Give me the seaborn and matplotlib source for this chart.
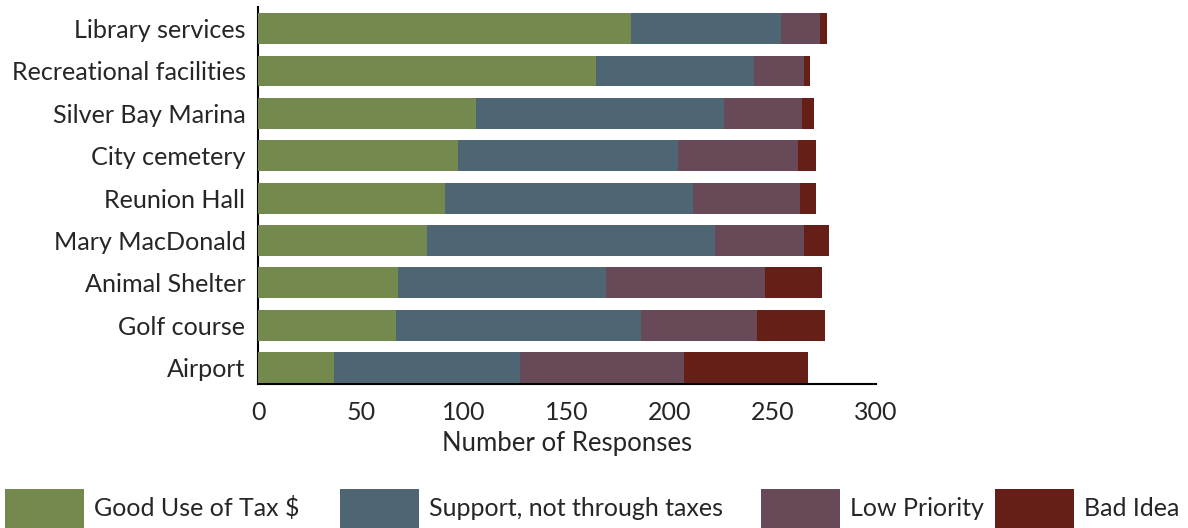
import matplotlib
matplotlib.use("Agg")
import matplotlib.pyplot as plt
import seaborn as sns
import pandas as pd
import numpy as np
from matplotlib.patches import Patch

categories = ["Library services", "Recreational facilities", "Silver Bay Marina",
              "City cemetery", "Reunion Hall", "Mary MacDonald", "Animal Shelter",
              "Golf course", "Airport"]
good_use = [181, 164, 106, 97, 91, 82, 68, 67, 37]
support_not_taxes = [73, 77, 120, 107, 120, 140, 101, 119, 90]
low_priority = [19, 24, 38, 58, 52, 43, 77, 56, 80]
bad_idea = [3, 3, 6, 9, 8, 12, 28, 33, 60]

series_names = ["Good Use of Tax $", "Support, not through taxes", "Low Priority", "Bad Idea"]
series_colors = ["#73894D", "#4E6673", "#674957", "#661F16"]
xticks = [0, 50, 100, 150, 200, 250, 300]

sns.set_theme(style="white")
plt.rcParams['font.family'] = ['Lato', 'DejaVu Sans']

df = pd.DataFrame({"category": categories, "g": good_use, "s": support_not_taxes,
                   "l": low_priority, "b": bad_idea})
cum = df[["g", "s", "l", "b"]].cumsum(axis=1)

W, H = 1188, 528
fig = plt.figure(figsize=(W / 100, H / 100), dpi=100)
ax = fig.add_axes([258 / W, 1 - 384 / H, (876 - 258) / W, (384 - 7) / H])

cols = ["g", "s", "l", "b"]
for i in reversed(range(4)):
    plot_df = pd.DataFrame({"category": categories, "value": cum[cols[i]]})
    sns.barplot(data=plot_df, y="category", x="value", color=series_colors[i],
                orient="h", width=0.73, saturation=1, ax=ax, zorder=3, linewidth=0)

ax.set_xlim(0, 300)
ax.set_ylim(8.39, -0.51)
ax.set_xticks(xticks)
ax.set_xticklabels([str(t) for t in xticks], fontsize=18)
ax.tick_params(axis="x", direction="in", length=6, width=1.5, color="black", pad=12)
ax.tick_params(axis="y", length=0, labelsize=18.1, pad=9)
ax.set_ylabel("")
ax.set_xlabel("Number of Responses", fontsize=18.5, labelpad=5)
for side in ["top", "right"]:
    ax.spines[side].set_visible(False)
for side in ["left", "bottom"]:
    ax.spines[side].set_color("black")
    ax.spines[side].set_linewidth(1.5)
    ax.spines[side].set_zorder(2)
ax.grid(False)

legend_x = [5, 340, 761, 995]
for name, color, xp in zip(series_names, series_colors, legend_x):
    leg = fig.legend([Patch(facecolor=color, edgecolor="none")], [name],
                     loc="lower left", bbox_to_anchor=(xp / W, 0.0),
                     frameon=False, fontsize=18, handlelength=3.16, handleheight=2.03,
                     handletextpad=0.4, borderaxespad=0.0, borderpad=0.0)

fig.savefig("out.png", dpi=100)
